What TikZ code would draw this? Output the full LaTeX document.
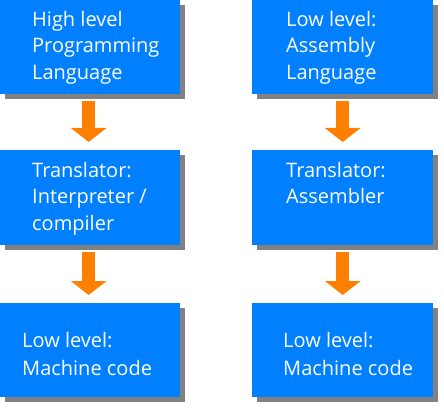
\documentclass[tikz,border=0pt]{standalone}
\usepackage{fontspec}
\setmainfont{Open Sans}
\usetikzlibrary{shadows,arrows.meta}
\definecolor{boxblue}{RGB}{0,128,255}
\definecolor{arrorange}{RGB}{255,128,0}
\tikzset{
  box/.style={rectangle, fill=boxblue, minimum width=180pt, minimum height=94pt, inner sep=0pt, anchor=north west,
    drop shadow={shadow xshift=5pt, shadow yshift=-5pt, fill=black!70, opacity=.7}},
  lbl/.style={anchor=base west, text=white, font=\fontsize{20}{20}\selectfont, inner sep=0pt},
  flow/.style={draw=arrorange, line width=13pt, -{Triangle[width=35pt,length=14pt]}, shorten <=7pt, shorten >=8pt}
}
\begin{document}
\begin{tikzpicture}[x=1pt,y=-1pt]
\useasboundingbox (0,0) rectangle (444,409);
\node[box] (hl) at (0,0) {};
\node[box, minimum height=95pt] (tr) at (0,150) {};
\node[box] (mc) at (0,303) {};
\node[box, minimum width=181pt] (al) at (252,0) {};
\node[box, minimum width=181pt, minimum height=95pt] (as) at (252,150) {};
\node[box, minimum width=181pt] (mc2) at (252,303) {};
\node[lbl] (t1) at (32,27) {High level};
\node[lbl] (t2) at (32,53) {Programming};
\node[lbl] (t3) at (32,80) {Language};
\node[lbl] (t4) at (32,177) {Translator:};
\node[lbl] (t5) at (32,203) {Interpreter /};
\node[lbl] (t6) at (32,230) {compiler};
\node[lbl] (t7) at (22,347) {Low level:};
\node[lbl] (t8) at (22,375) {Machine code};
\node[lbl] (u1) at (286,27) {Low level:};
\node[lbl] (u2) at (286,53) {Assembly};
\node[lbl] (u3) at (286,80) {Language};
\node[lbl] (u4) at (286,177) {Translator:};
\node[lbl] (u5) at (286,203) {Assembler};
\node[lbl] (u6) at (283,347) {Low level:};
\node[lbl] (u7) at (283,375) {Machine code};
\draw[flow] ([xshift=-1.5pt]hl.south) -- ([xshift=-1.5pt]tr.north);
\draw[flow] ([xshift=-1.5pt]tr.south) -- ([xshift=-1.5pt]mc.north);
\draw[flow] (al.south) -- (as.north);
\draw[flow] (as.south) -- (mc2.north);
\end{tikzpicture}
\end{document}
